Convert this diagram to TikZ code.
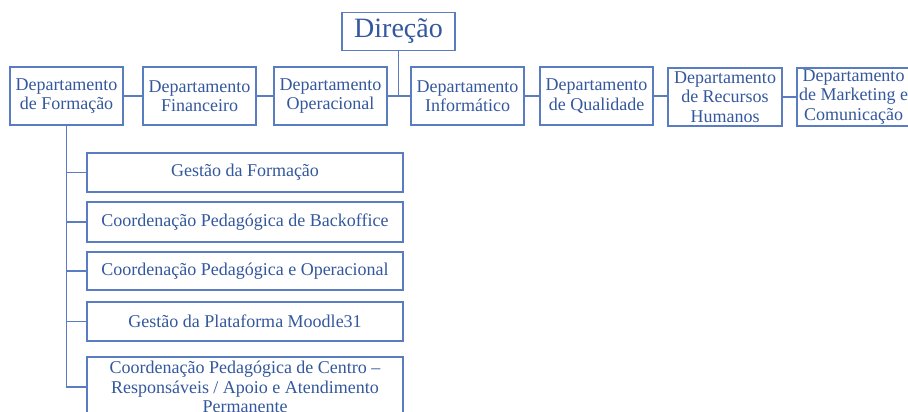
\documentclass[tikz,border=0pt]{standalone}
\usepackage{fontspec}
\setmainfont{Liberation Serif}
\definecolor{txtblue}{HTML}{34589E}
\definecolor{lineblue}{HTML}{5A7CC0}
\begin{document}
\begin{tikzpicture}[x=1pt,y=-1pt,
  box/.style={draw=lineblue,line width=1.8pt,fill=white,text=txtblue,align=center,inner sep=0pt,
    font=\fontsize{18}{19.5}\selectfont},
  dept/.style={box,minimum width=113pt,minimum height=58pt},
  sub/.style={box,minimum width=316pt},
  conn/.style={draw=lineblue,line width=1.8pt}]
\useasboundingbox (0,0) rectangle (908,412);
\clip (0,0) rectangle (908,412);
\fill[white] (0,0) rectangle (908,412);
\coordinate (hub) at (398.5,96);
\node[dept] (form) at (66.5,96) {Departamento\\de Formação};
\node[dept] (fin) at (199.5,96) {Departamento\\Financeiro};
\node[dept] (oper) at (330.5,96) {Departamento\\Operacional};
\node[dept] (info) at (467.5,96) {Departamento\\Informático};
\node[dept] (qual) at (596.5,96) {Departamento\\de Qualidade};
\node[dept,minimum width=114pt] (rh) at (725,97) {Departamento\\de Recursos\\Humanos};
\node[dept] (mkt) at (853.5,97) {Departamento\\de Marketing e\\Comunicação};
\node[box,minimum width=113pt,minimum height=38pt,font=\fontsize{28}{30}\selectfont] (dir) at (398.5,31.5) {Direção};
\node[sub,minimum height=39pt] (s1) at (245,172.5) {Gestão da Formação};
\node[sub,minimum height=40pt] (s2) at (245,222) {Coordenação Pedagógica de Backoffice};
\node[sub,minimum height=38pt] (s3) at (245,271) {Coordenação Pedagógica e Operacional};
\node[sub,minimum height=39pt] (s4) at (245,321.5) {Gestão da Plataforma Moodle31};
\node[sub,minimum height=60pt] (s5) at (245,387) {Coordenação Pedagógica de Centro –\\Responsáveis / Apoio e Atendimento\\Permanente};
\draw[conn] (dir.south) -- (hub);
\draw[conn] (form.east) -- (fin.west);
\draw[conn] (fin.east) -- (oper.west);
\draw[conn] (oper.east) -- (hub) -- (info.west);
\draw[conn] (info.east) -- (qual.west);
\draw[conn] (qual.east) -- (rh.west |- qual.east);
\draw[conn] (rh.east) -- (mkt.west);
\draw[conn] (form.south) -- (form.south |- s5.west) -- (s5.west);
\foreach \s in {s1,s2,s3,s4} \draw[conn] (form.south |- \s.west) -- (\s.west);
\end{tikzpicture}
\end{document}
